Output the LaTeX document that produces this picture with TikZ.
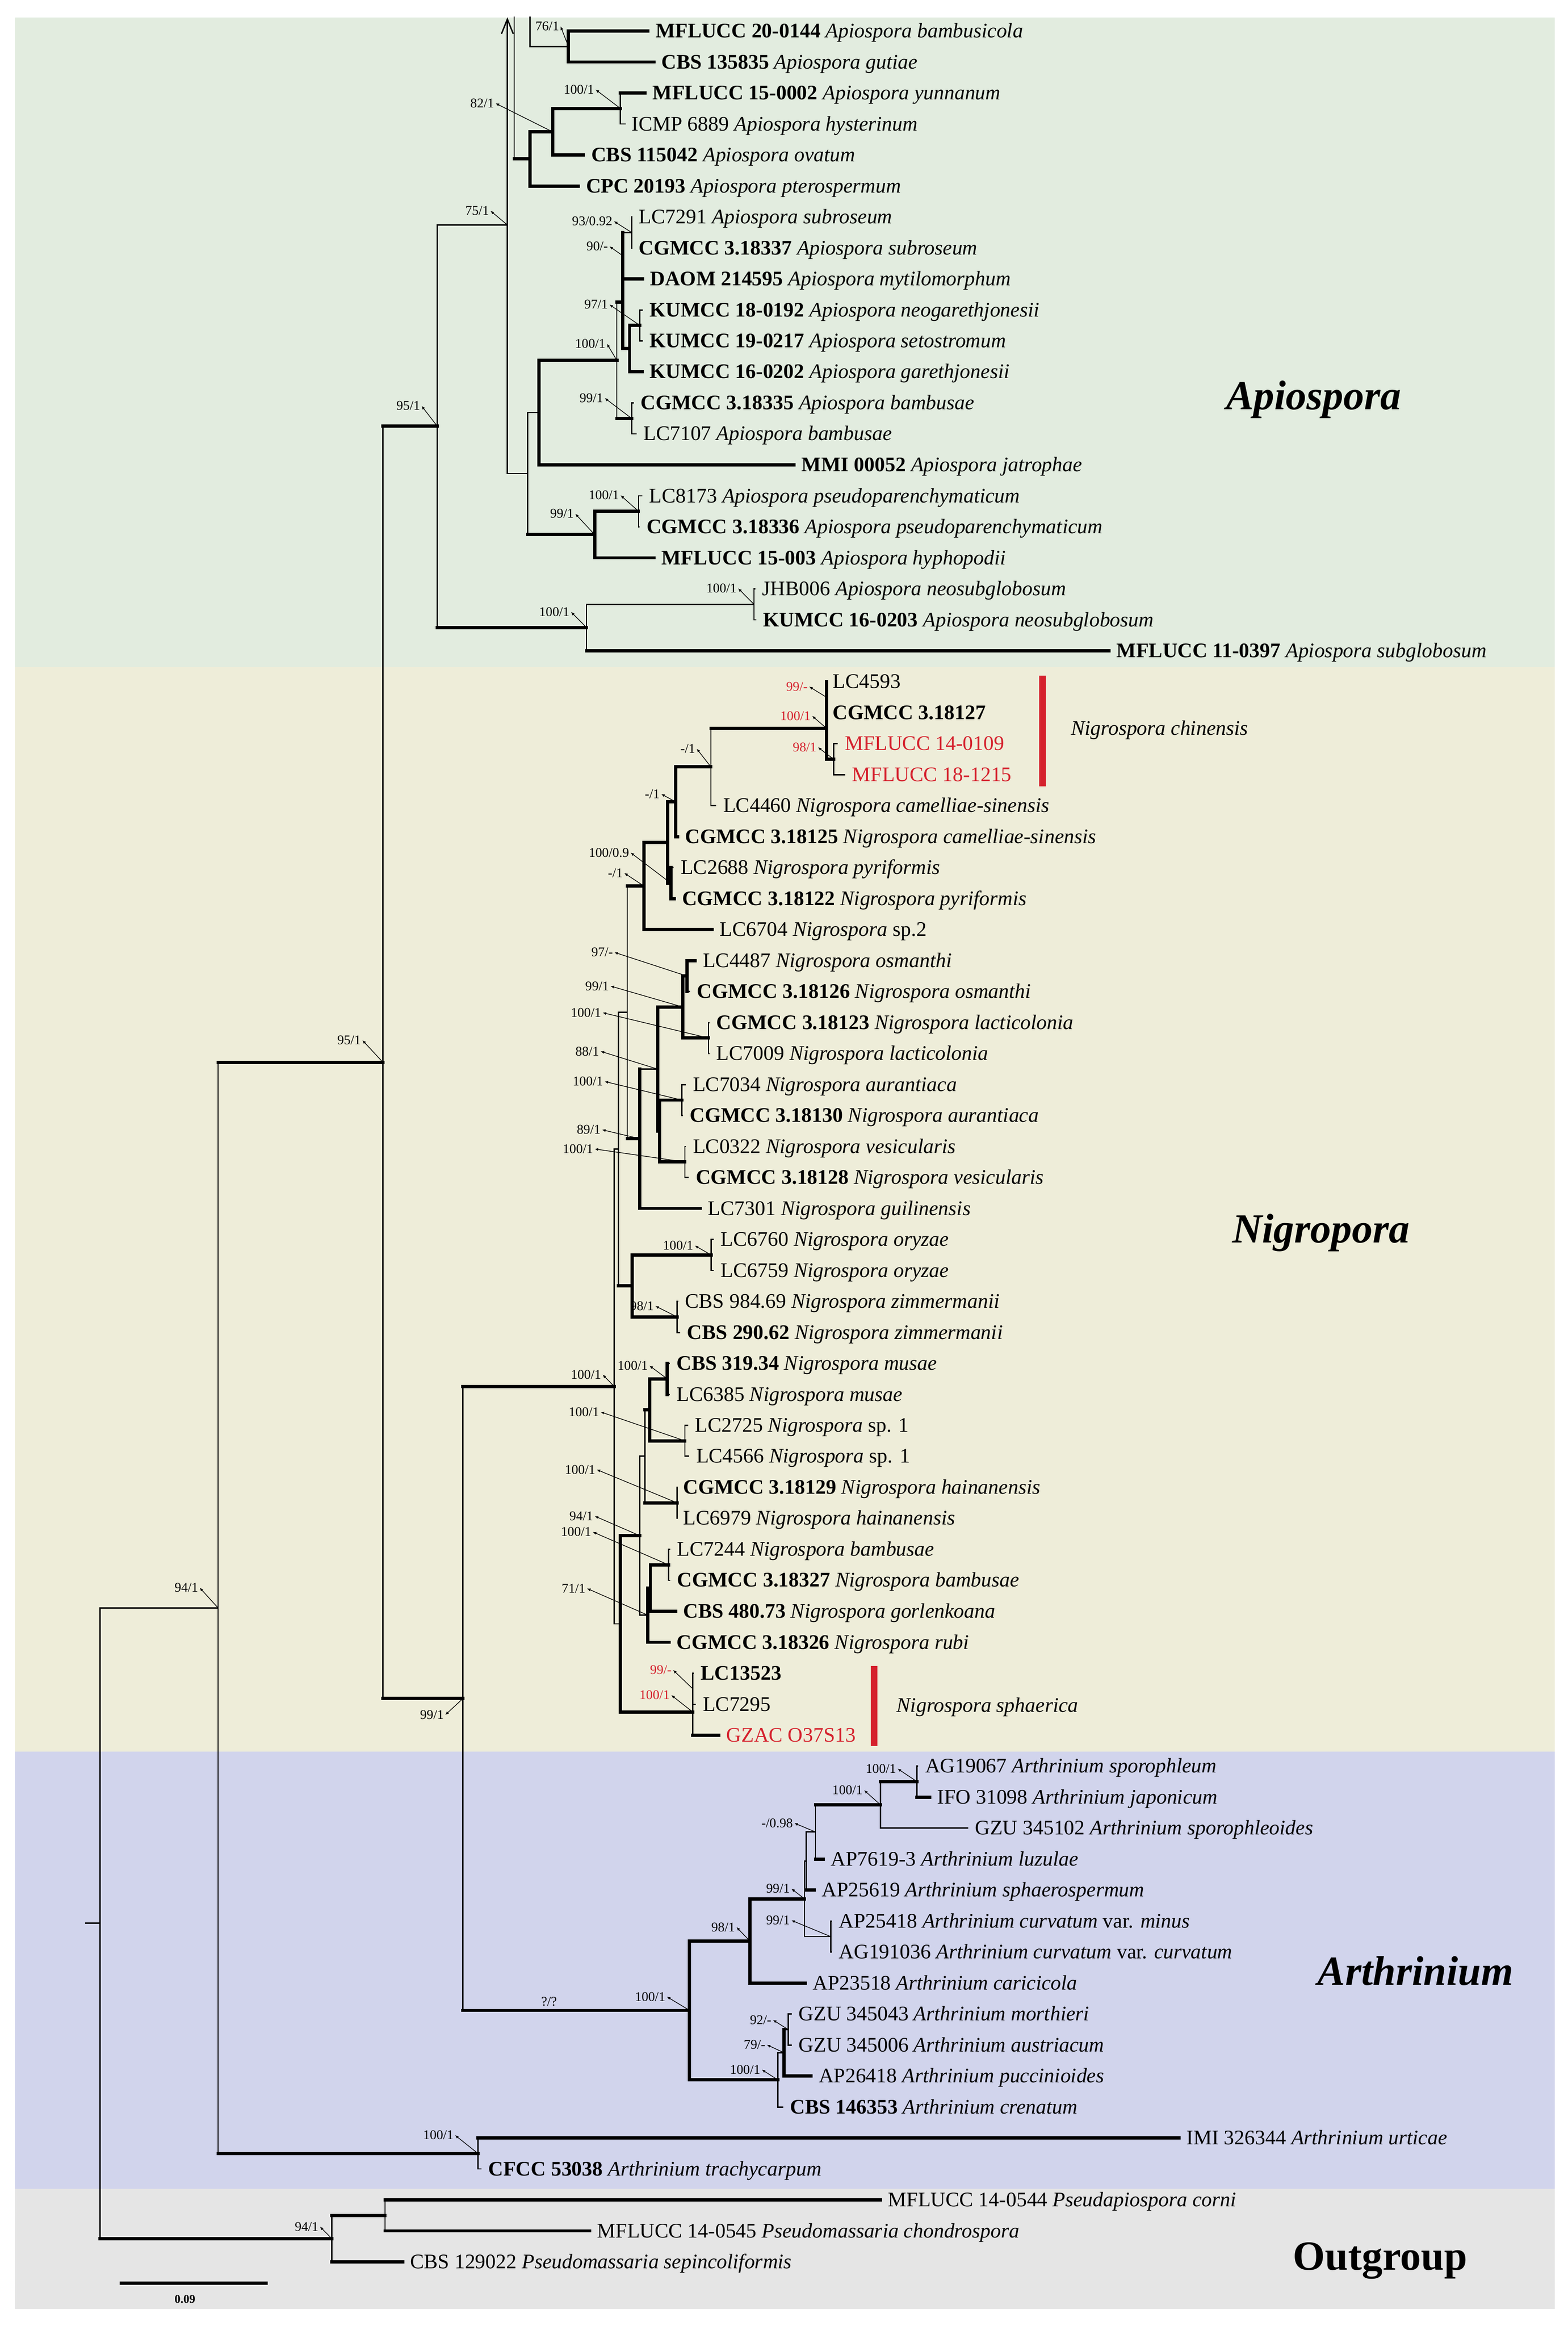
\documentclass[tikz,border=0pt]{standalone}
\usepackage{fontspec}
\setmainfont{Liberation Serif}
\usetikzlibrary{arrows.meta}
\definecolor{redc}{RGB}{213,33,45}
\definecolor{bgapio}{RGB}{226,236,223}
\definecolor{bgnig}{RGB}{238,237,217}
\definecolor{bgarth}{RGB}{209,212,236}
\definecolor{bgout}{RGB}{229,229,229}
\tikzset{
  tiplab/.style={anchor=west, inner ysep=0pt, font=\fontsize{14}{16}\selectfont, text height=10pt, text depth=1pt},
  suplab/.style={anchor=east, inner sep=0.8pt, font=\fontsize{9}{10}\selectfont},
  cladetitle/.style={font=\fontsize{28}{30}\selectfont\bfseries\itshape, inner sep=0pt},
  thn/.style={line width=0.9pt, line cap=rect},
  thk/.style={line width=2.2pt, line cap=rect},
  ptr/.style={line width=0.45pt, {Latex[length=2.4pt,width=2pt]}-},
}
\newcommand{\tipx}[7]{\node[tiplab,inner xsep=#5pt] (#1) at (#3,#4) {#6};\draw[#7] (#2 |- #1.west) -- (#1.west);}
\newcommand{\supx}[6][black]{\node[suplab,text=#1] (#2) at (#3,#4) {#5};\draw[ptr] (#2.east) -- (#6);}
\newcommand{\vbar}[4]{\draw[#1] (#2 |- #3) -- (#2 |- #4);}
\newcommand{\hbr}[3]{\draw[#1] (#2 |- #3) -- (#3);}
\begin{document}
\begin{tikzpicture}[x=1pt,y=-1pt]
\useasboundingbox (0,0) rectangle (1060,1572);
% backgrounds
\fill[bgapio] (10.3,11.7) rectangle (1051,451);
\fill[bgnig] (10.3,451) rectangle (1051,1183.8);
\fill[bgarth] (10.3,1183.8) rectangle (1051,1479.3);
\fill[bgout] (10.3,1479.3) rectangle (1051,1560.5);

% ---------------- internal node coordinates ----------------
\coordinate (Ntopa) at (347.6,11.7);
\coordinate (Ntopb) at (358.3,11.7);
\coordinate (Narrow) at (343,11.7);
\coordinate (N76) at (384.3,31.45);
\coordinate (N100y) at (419.5,73.35);
\coordinate (N82) at (373.6,89.1);
\coordinate (N358) at (358.3,107.4);
\coordinate (N75) at (343,152);
\coordinate (Nsub) at (427,157.1);
\coordinate (N90) at (421,172.8);
\coordinate (N97) at (432.6,219.95);
\coordinate (Nk) at (425.6,235.6);
\coordinate (Nx) at (421,204.2);
\coordinate (N99b) at (427,282.75);
\coordinate (N100) at (417,243.5);
\coordinate (Nmmi) at (364.4,278.85);
\coordinate (N100p) at (431.7,345.55);
\coordinate (N99p) at (402,361.3);
\coordinate (Ny) at (356.7,320.1);
\coordinate (N100n) at (509.7,408.4);
\coordinate (N396) at (396.5,424.1);
\coordinate (N95) at (295.6,288);
\coordinate (N99c) at (558.7,471.2);
\coordinate (N98c) at (563.6,513.1);
\coordinate (Nch) at (558.7,492.15);
\coordinate (Na1) at (480.6,518.3);
\coordinate (Nb1) at (456.8,541.9);
\coordinate (Npyr) at (453.5,596.85);
\coordinate (Nq) at (451.4,569.4);
\coordinate (Ntop) at (435.4,598.85);
\coordinate (Nosm) at (464.4,659.65);
\coordinate (Nlac) at (479,701.55);
\coordinate (N99n) at (461.7,680.6);
\coordinate (Naur) at (460.9,743.45);
\coordinate (Nves) at (463,785.3);
\coordinate (Nav) at (445.8,764.4);
\coordinate (N88) at (444.5,722.5);
\coordinate (N89) at (432.6,769.6);
\coordinate (NA) at (424,684.2);
\coordinate (Nory) at (480.8,848.15);
\coordinate (Nzim) at (457.7,890);
\coordinate (Noz) at (427.3,869.1);
\coordinate (NB) at (418,776.65);
\coordinate (Nmus) at (451.1,931.9);
\coordinate (Nsp1) at (463,973.75);
\coordinate (Nms) at (439.2,952.8);
\coordinate (Nhai) at (457.7,1015.65);
\coordinate (Nmsh) at (436,984.2);
\coordinate (Nbam) at (451.9,1057.55);
\coordinate (Nbg) at (439.7,1073.2);
\coordinate (N71) at (437.9,1091.55);
\coordinate (N94) at (432.6,1037.9);
\coordinate (Nsphin) at (468.3,1141.3);
\coordinate (Nsph) at (468.3,1157);
\coordinate (NC) at (419.3,1097.45);
\coordinate (Ncrown) at (415.3,937.05);
\coordinate (N313) at (313,1147.9);
\coordinate (N258) at (258.9,717.95);
\coordinate (N148) at (147.4,1086.65);
\coordinate (Nroot) at (67.6,1299.8);
\coordinate (Nstub) at (58,1299.8);
\coordinate (Nspo) at (620,1204.1);
\coordinate (N100b) at (595.3,1219.8);
\coordinate (N098) at (551.3,1238.1);
\coordinate (Nmid) at (545.1,1257.75);
\coordinate (Ncur) at (561.6,1308.8);
\coordinate (N99a) at (543.9,1283.3);
\coordinate (N98a) at (506.9,1311.75);
\coordinate (N92) at (532.8,1371.6);
\coordinate (N79) at (530,1387.3);
\coordinate (Nlow) at (525.8,1405.6);
\coordinate (Narth) at (466.2,1358.7);
\coordinate (N322) at (323.1,1455.35);
\coordinate (N260) at (260.3,1497.25);
\coordinate (Nout) at (224.4,1513);

% ---------------- tips ----------------
\tipx{t1}{N76}{438}{21}{5}{\textbf{MFLUCC 20-0144} \textit{Apiospora bambusicola}}{thk}
\tipx{t2}{N76}{442}{41.9}{5}{\textbf{CBS 135835} \textit{Apiospora gutiae}}{thk}
\tipx{t3}{N100y}{436}{62.9}{5}{\textbf{MFLUCC 15-0002} \textit{Apiospora yunnanum}}{thk}
\tipx{t4}{N100y}{422.5}{83.8}{4.5}{ICMP 6889 \textit{Apiospora hysterinum}}{thn}
\tipx{t5}{N82}{394.6}{104.8}{5}{\textbf{CBS 115042} \textit{Apiospora ovatum}}{thk}
\tipx{t6}{N358}{391}{125.7}{5}{\textbf{CPC 20193} \textit{Apiospora pterospermum}}{thk}
\tipx{t7}{Nsub}{427}{146.6}{4.7}{LC7291 \textit{Apiospora subroseum}}{thn}
\tipx{t8}{Nsub}{427}{167.6}{4.7}{\textbf{CGMCC 3.18337} \textit{Apiospora subroseum}}{thn}
\tipx{t9}{N90}{434.4}{188.5}{5}{\textbf{DAOM 214595} \textit{Apiospora mytilomorphum}}{thk}
\tipx{t10}{N97}{434}{209.5}{5}{\textbf{KUMCC 18-0192} \textit{Apiospora neogarethjonesii}}{thn}
\tipx{t11}{N97}{434}{230.4}{5}{\textbf{KUMCC 19-0217} \textit{Apiospora setostromum}}{thn}
\tipx{t12}{Nk}{434}{251.3}{5}{\textbf{KUMCC 16-0202} \textit{Apiospora garethjonesii}}{thk}
\tipx{t13}{N99b}{428}{272.3}{5}{\textbf{CGMCC 3.18335} \textit{Apiospora bambusae}}{thn}
\tipx{t14}{N99b}{429.8}{293.2}{5}{LC7107 \textit{Apiospora bambusae}}{thn}
\tipx{t15}{Nmmi}{536.8}{314.2}{5}{\textbf{MMI 00052} \textit{Apiospora jatrophae}}{thk}
\tipx{t16}{N100p}{433.7}{335.1}{5}{LC8173 \textit{Apiospora pseudoparenchymaticum}}{thn}
\tipx{t17}{N100p}{432}{356}{5}{\textbf{CGMCC 3.18336} \textit{Apiospora pseudoparenchymaticum}}{thn}
\tipx{t18}{N99p}{442}{377}{5}{\textbf{MFLUCC 15-003} \textit{Apiospora hyphopodii}}{thk}
\tipx{t19}{N100n}{510.2}{397.9}{5}{JHB006 \textit{Apiospora neosubglobosum}}{thn}
\tipx{t20}{N100n}{510.8}{418.9}{5}{\textbf{KUMCC 16-0203} \textit{Apiospora neosubglobosum}}{thn}
\tipx{t21}{N396}{749.7}{439.8}{5}{\textbf{MFLUCC 11-0397} \textit{Apiospora subglobosum}}{thk}
\tipx{t22}{N99c}{558.7}{460.7}{4.1}{LC4593}{thn}
\tipx{t23}{N99c}{558.7}{481.7}{4.1}{\textbf{CGMCC 3.18127}}{thn}
\tipx{t24}{N98c}{566}{502.6}{5}{\textcolor{redc}{MFLUCC 14-0109}}{thn}
\tipx{t25}{N98c}{571}{523.6}{5}{\textcolor{redc}{MFLUCC 18-1215}}{thn}
\tipx{t26}{Na1}{483.8}{544.5}{5}{LC4460 \textit{Nigrospora camelliae-sinensis}}{thn}
\tipx{t27}{Nb1}{458}{565.4}{5}{\textbf{CGMCC 3.18125} \textit{Nigrospora camelliae-sinensis}}{thk}
\tipx{t28}{Npyr}{455}{586.4}{5}{LC2688 \textit{Nigrospora pyriformis}}{thn}
\tipx{t29}{Npyr}{456}{607.3}{5}{\textbf{CGMCC 3.18122} \textit{Nigrospora pyriformis}}{thk}
\tipx{t30}{Ntop}{481.4}{628.3}{5}{LC6704 \textit{Nigrospora} sp.2}{thk}
\tipx{t31}{Nosm}{470}{649.2}{5}{LC4487 \textit{Nigrospora osmanthi}}{thk}
\tipx{t32}{Nosm}{466}{670.1}{5}{\textbf{CGMCC 3.18126} \textit{Nigrospora osmanthi}}{thn}
\tipx{t33}{Nlac}{479.2}{691.1}{5}{\textbf{CGMCC 3.18123} \textit{Nigrospora lacticolonia}}{thn}
\tipx{t34}{Nlac}{479.2}{712}{5}{LC7009 \textit{Nigrospora lacticolonia}}{thn}
\tipx{t35}{Naur}{463.3}{733}{5}{LC7034 \textit{Nigrospora aurantiaca}}{thn}
\tipx{t36}{Naur}{461.2}{753.9}{5}{\textbf{CGMCC 3.18130} \textit{Nigrospora aurantiaca}}{thn}
\tipx{t37}{Nves}{463.3}{774.8}{5}{LC0322 \textit{Nigrospora vesicularis}}{thn}
\tipx{t38}{Nves}{465.2}{795.8}{5}{\textbf{CGMCC 3.18128} \textit{Nigrospora vesicularis}}{thn}
\tipx{t39}{N89}{473.4}{816.7}{5}{LC7301 \textit{Nigrospora guilinensis}}{thk}
\tipx{t40}{Nory}{482}{837.7}{5}{LC6760 \textit{Nigrospora oryzae}}{thn}
\tipx{t41}{Nory}{482}{858.6}{5}{LC6759 \textit{Nigrospora oryzae}}{thn}
\tipx{t42}{Nzim}{458}{879.5}{5}{CBS 984.69 \textit{Nigrospora zimmermanii}}{thn}
\tipx{t43}{Nzim}{459.4}{900.5}{5}{\textbf{CBS 290.62} \textit{Nigrospora zimmermanii}}{thn}
\tipx{t44}{Nmus}{452.2}{921.4}{5}{\textbf{CBS 319.34} \textit{Nigrospora musae}}{thn}
\tipx{t45}{Nmus}{452.2}{942.4}{5}{LC6385 \textit{Nigrospora musae}}{thn}
\tipx{t46}{Nsp1}{464.7}{963.3}{5}{LC2725 \textit{Nigrospora} sp. 1}{thn}
\tipx{t47}{Nsp1}{465.5}{984.2}{5}{LC4566 \textit{Nigrospora} sp. 1}{thn}
\tipx{t48}{Nhai}{457.7}{1005.2}{4}{\textbf{CGMCC 3.18129} \textit{Nigrospora hainanensis}}{thn}
\tipx{t49}{Nhai}{457.7}{1026.1}{4}{LC6979 \textit{Nigrospora hainanensis}}{thn}
\tipx{t50}{Nbam}{452.7}{1047.1}{5}{LC7244 \textit{Nigrospora bambusae}}{thn}
\tipx{t51}{Nbam}{452.7}{1068}{5}{\textbf{CGMCC 3.18327} \textit{Nigrospora bambusae}}{thn}
\tipx{t52}{Nbg}{456.7}{1088.9}{5}{\textbf{CBS 480.73} \textit{Nigrospora gorlenkoana}}{thk}
\tipx{t53}{N71}{452.2}{1109.9}{5}{\textbf{CGMCC 3.18326} \textit{Nigrospora rubi}}{thk}
\tipx{t54}{Nsphin}{468.6}{1130.8}{5}{\textbf{LC13523}}{thn}
\tipx{t55}{Nsphin}{470}{1151.8}{5}{LC7295}{thn}
\tipx{t56}{Nsph}{485.9}{1172.7}{5}{\textcolor{redc}{GZAC O37S13}}{thk}
\tipx{t57}{Nspo}{620.3}{1193.6}{5}{AG19067 \textit{Arthrinium sporophleum}}{thn}
\tipx{t58}{Nspo}{628.5}{1214.6}{5}{IFO 31098 \textit{Arthrinium japonicum}}{thk}
\tipx{t59}{N100b}{654}{1235.5}{5}{GZU 345102 \textit{Arthrinium sporophleoides}}{thn}
\tipx{t60}{N098}{556.6}{1256.4}{5}{AP7619-3 \textit{Arthrinium luzulae}}{thk}
\tipx{t61}{Nmid}{550.4}{1277.4}{5}{AP25619 \textit{Arthrinium sphaerospermum}}{thk}
\tipx{t62}{Ncur}{562}{1298.3}{5}{AP25418 \textit{Arthrinium curvatum} var. \textit{minus}}{thn}
\tipx{t63}{Ncur}{562}{1319.3}{5}{AG191036 \textit{Arthrinium curvatum} var. \textit{curvatum}}{thn}
\tipx{t64}{N98a}{544.3}{1340.2}{5}{AP23518 \textit{Arthrinium caricicola}}{thk}
\tipx{t65}{N92}{534.8}{1361.1}{5}{GZU 345043 \textit{Arthrinium morthieri}}{thn}
\tipx{t66}{N92}{534.8}{1382.1}{5}{GZU 345006 \textit{Arthrinium austriacum}}{thn}
\tipx{t67}{N79}{548.4}{1403}{5}{AP26418 \textit{Arthrinium puccinioides}}{thk}
\tipx{t68}{Nlow}{529}{1424}{5}{\textbf{CBS 146353} \textit{Arthrinium crenatum}}{thn}
\tipx{t69}{N322}{797}{1444.9}{5}{IMI 326344 \textit{Arthrinium urticae}}{thk}
\tipx{t70}{N322}{325}{1465.8}{5}{\textbf{CFCC 53038} \textit{Arthrinium trachycarpum}}{thn}
\tipx{t71}{N260}{595.3}{1486.8}{5}{MFLUCC 14-0544 \textit{Pseudapiospora corni}}{thk}
\tipx{t72}{N260}{398.6}{1507.7}{5}{MFLUCC 14-0545 \textit{Pseudomassaria chondrospora}}{thk}
\tipx{t73}{Nout}{272.2}{1528.7}{5}{CBS 129022 \textit{Pseudomassaria sepincoliformis}}{thk}

% ---------------- vertical bars ----------------
\vbar{thk}{N76}{t1.west}{t2.west}
\vbar{thn}{N100y}{t3.west}{t4.west}
\vbar{thk}{N82}{N100y}{t5.west}
\vbar{thk}{N358}{N82}{t6.west}
\vbar{thn}{Nsub}{t7.west}{t8.west}
\vbar{thk}{N90}{Nsub}{t9.west}
\vbar{thn}{N97}{t10.west}{t11.west}
\vbar{thk}{Nk}{N97}{t12.west}
\vbar{thk}{Nx}{N90}{Nk}
\vbar{thn}{N99b}{t13.west}{t14.west}
\vbar{thn}{N100}{Nx}{N99b}
\vbar{thk}{Nmmi}{N100}{t15.west}
\vbar{thn}{N100p}{t16.west}{t17.west}
\vbar{thk}{N99p}{N100p}{t18.west}
\vbar{thn}{Ny}{Nmmi}{N99p}
\vbar{thn}{N100n}{t19.west}{t20.west}
\vbar{thn}{N396}{N100n}{t21.west}
\vbar{thn}{N95}{N75}{N396}
\vbar{thk}{N99c}{t22.west}{t23.west}
\vbar{thk}{Nch}{N99c}{N98c}
\vbar{thn}{N98c}{t24.west}{t25.west}
\vbar{thn}{Na1}{Nch}{t26.west}
\vbar{thk}{Nb1}{Na1}{t27.west}
\vbar{thk}{Npyr}{t28.west}{t29.west}
\vbar{thk}{Nq}{Nb1}{Npyr}
\vbar{thk}{Ntop}{Nq}{t30.west}
\vbar{thk}{Nosm}{t31.west}{t32.west}
\vbar{thn}{Nlac}{t33.west}{t34.west}
\vbar{thk}{N99n}{Nosm}{Nlac}
\vbar{thn}{Naur}{t35.west}{t36.west}
\vbar{thn}{Nves}{t37.west}{t38.west}
\vbar{thk}{Nav}{Naur}{Nves}
\vbar{thk}{N88}{N99n}{Nav}
\vbar{thk}{N89}{N88}{t39.west}
\vbar{thn}{NA}{Ntop}{N89}
\vbar{thn}{Nory}{t40.west}{t41.west}
\vbar{thn}{Nzim}{t42.west}{t43.west}
\vbar{thk}{Noz}{Nory}{Nzim}
\vbar{thn}{NB}{NA}{Noz}
\vbar{thk}{Nmus}{t44.west}{t45.west}
\vbar{thn}{Nsp1}{t46.west}{t47.west}
\vbar{thk}{Nms}{Nmus}{Nsp1}
\vbar{thn}{Nhai}{t48.west}{t49.west}
\vbar{thn}{Nmsh}{Nms}{Nhai}
\vbar{thn}{Nbam}{t50.west}{t51.west}
\vbar{thk}{Nbg}{Nbam}{t52.west}
\vbar{thk}{N71}{Nbg}{t53.west}
\vbar{thn}{N94}{Nmsh}{N71}
\vbar{thn}{Nsphin}{t54.west}{t55.west}
\vbar{thn}{Nsph}{Nsphin}{t56.west}
\vbar{thk}{NC}{N94}{Nsph}
\vbar{thn}{Ncrown}{NB}{NC}
\vbar{thn}{N313}{Ncrown}{Narth}
\vbar{thn}{N258}{N95}{N313}
\vbar{thn}{N148}{N258}{N322}
\vbar{thn}{Nroot}{N148}{Nout}
\vbar{thn}{Nspo}{t57.west}{t58.west}
\vbar{thn}{N100b}{Nspo}{t59.west}
\vbar{thn}{N098}{N100b}{t60.west}
\vbar{thn}{Nmid}{N098}{t61.west}
\vbar{thn}{Ncur}{t62.west}{t63.west}
\vbar{thn}{N99a}{Nmid}{Ncur}
\vbar{thk}{N98a}{N99a}{t64.west}
\vbar{thn}{N92}{t65.west}{t66.west}
\vbar{thk}{N79}{N92}{t67.west}
\vbar{thn}{Nlow}{N79}{t68.west}
\vbar{thk}{Narth}{N98a}{Nlow}
\vbar{thn}{N322}{t69.west}{t70.west}
\vbar{thn}{N260}{t71.west}{t72.west}
\vbar{thn}{Nout}{N260}{t73.west}

% ---------------- horizontal branches between internal nodes ----------------
\draw[thn] (Ntopb) |- (N76);
\draw[thn] (Ntopa) -- (Ntopa |- N358);
\hbr{thk}{Ntopa}{N358}
\draw[thn,-{Straight Barb[length=10pt,width=8pt]}] (N75) -- (Narrow);
\draw[thn] (N75) -- (N75 |- Ny);
\hbr{thn}{N75}{Ny}
\hbr{thk}{N82}{N100y}
\hbr{thk}{N358}{N82}
\hbr{thk}{N100}{Nx}
\hbr{thk}{N100}{N99b}
\hbr{thk}{Nx}{Nk}
\hbr{thn}{N90}{Nsub}
\hbr{thk}{Nk}{N97}
\hbr{thk}{Nmmi}{N100}
\hbr{thn}{Ny}{Nmmi}
\hbr{thk}{Ny}{N99p}
\hbr{thk}{N99p}{N100p}
\hbr{thn}{N396}{N100n}
\hbr{thn}{N95}{N75}
\hbr{thk}{N95}{N396}
\hbr{thk}{N258}{N95}
\hbr{thk}{Nch}{N98c}
\hbr{thk}{Na1}{Nch}
\hbr{thk}{Nb1}{Na1}
\hbr{thk}{Nq}{Nb1}
\hbr{thk}{Nq}{Npyr}
\hbr{thk}{Ntop}{Nq}
\hbr{thk}{NA}{Ntop}
\hbr{thk}{N99n}{Nosm}
\hbr{thk}{N99n}{Nlac}
\hbr{thk}{N88}{N99n}
\hbr{thk}{Nav}{Naur}
\hbr{thk}{Nav}{Nves}
\hbr{thk}{N88}{Nav}
\hbr{thn}{N89}{N88}
\hbr{thk}{NA}{N89}
\hbr{thn}{NB}{NA}
\hbr{thk}{Noz}{Nory}
\hbr{thk}{Noz}{Nzim}
\hbr{thk}{NB}{Noz}
\hbr{thn}{Ncrown}{NB}
\hbr{thk}{Nms}{Nmus}
\hbr{thk}{Nms}{Nsp1}
\hbr{thk}{Nmsh}{Nms}
\hbr{thk}{Nmsh}{Nhai}
\hbr{thn}{N94}{Nmsh}
\hbr{thk}{Nbg}{Nbam}
\hbr{thk}{N71}{Nbg}
\hbr{thn}{N94}{N71}
\hbr{thk}{NC}{N94}
\hbr{thk}{NC}{Nsph}
\hbr{thn}{Ncrown}{NC}
\hbr{thk}{N313}{Ncrown}
\hbr{thk}{N313}{Narth}
\hbr{thk}{N258}{N313}
\hbr{thk}{N148}{N258}
\hbr{thk}{N148}{N322}
\hbr{thn}{Nroot}{N148}
\hbr{thk}{Nroot}{Nout}
\draw[thn] (Nstub) -- (Nroot);
\hbr{thk}{N100b}{Nspo}
\hbr{thk}{N098}{N100b}
\hbr{thn}{Nmid}{N098}
\hbr{thn}{N99a}{Nmid}
\hbr{thn}{N99a}{Ncur}
\hbr{thk}{N98a}{N99a}
\hbr{thk}{Narth}{N98a}
\hbr{thn}{N79}{N92}
\hbr{thn}{Nlow}{N79}
\hbr{thk}{Narth}{Nlow}
\hbr{thk}{Nout}{N260}

% ---------------- support values ----------------
\supx{s1}{379}{17.8}{76/1}{N76}
\supx{s2}{402.6}{60.5}{100/1}{N100y}
\supx{s3}{335}{69.8}{82/1}{N82}
\supx{s4}{331.6}{142.5}{75/1}{N75}
\supx{s5}{415}{149.5}{93/0.92}{Nsub}
\supx{s6}{412}{166.5}{90/-}{N90}
\supx{s7}{412}{205.8}{97/1}{N97}
\supx{s8}{410.3}{232.3}{100/1}{N100}
\supx{s9}{408.8}{269}{99/1}{N99b}
\supx{s10}{419.5}{334.7}{100/1}{N100p}
\supx{s11}{388.9}{347.2}{99/1}{N99p}
\supx{s12}{499}{397.6}{100/1}{N100n}
\supx{s13}{386}{413.5}{100/1}{N396}
\supx{s14}{285}{274.3}{95/1}{N95}
\supx[redc]{s15}{547}{464}{99/-}{N99c}
\supx[redc]{s16}{549}{483.8}{100/1}{Nch}
\supx[redc]{s17}{553}{505}{98/1}{N98c}
\supx{s18}{471}{506}{-/1}{Na1}
\supx{s19}{447}{536.6}{-/1}{Nb1}
\supx{s20}{426.3}{576.2}{100/0.9}{Npyr}
\supx{s21}{422}{590}{-/1}{Ntop}
\supx{s22}{415.3}{643.6}{97/-}{Nosm}
\supx{s23}{412.7}{666.4}{99/1}{N99n}
\supx{s24}{407.4}{684.4}{100/1}{Nlac}
\supx{s25}{406}{710.5}{88/1}{N88}
\supx{s26}{408.7}{730.9}{100/1}{Naur}
\supx{s27}{407}{763.5}{89/1}{N89}
\supx{s28}{402}{776.5}{100/1}{Nves}
\supx{s29}{469.7}{841.8}{100/1}{Nory}
\supx{s30}{443}{882.6}{98/1}{Nzim}
\supx{s31}{407.4}{929}{100/1}{Ncrown}
\supx{s32}{439}{922.9}{100/1}{Nmus}
\supx{s33}{406}{954.2}{100/1}{Nsp1}
\supx{s34}{403.4}{993.2}{100/1}{Nhai}
\supx{s35}{402}{1024.6}{94/1}{N94}
\supx{s36}{400.7}{1035.3}{100/1}{Nbam}
\supx{s37}{396.8}{1073.5}{71/1}{N71}
\supx[redc]{s38}{455}{1128.6}{99/-}{Nsphin}
\supx[redc]{s39}{453.8}{1145.6}{100/1}{Nsph}
\supx{s40}{245}{703}{95/1}{N258}
\supx{s41}{135}{1073}{94/1}{N148}
\supx{s42}{301}{1159}{99/1}{N313}
\supx{s43}{606.8}{1195.3}{100/1}{Nspo}
\supx{s44}{584.2}{1209.9}{100/1}{N100b}
\supx{s45}{537}{1232.1}{-/0.98}{N098}
\supx{s46}{535}{1276.4}{99/1}{N99a}
\supx{s47}{535}{1297.8}{99/1}{Ncur}
\supx{s48}{497.9}{1302.4}{98/1}{N98a}
\supx{s49}{450.8}{1349.4}{100/1}{Narth}
\node[suplab,anchor=center] (s50) at (371.2,1352.6) {?/?};
\supx{s51}{522.5}{1365.1}{92/-}{N92}
\supx{s52}{518.4}{1381.9}{79/-}{N79}
\supx{s53}{515}{1398.7}{100/1}{Nlow}
\supx{s54}{307.6}{1443}{100/1}{N322}
\supx{s55}{216.3}{1504.8}{94/1}{Nout}

% ---------------- species bars and clade titles ----------------
\coordinate (barA1) at (704.7,456.7);
\coordinate (barA2) at (704.7,531.6);
\draw[redc,line width=4.5pt] (barA1) -- (barA2);
\coordinate (barB1) at (591,1126);
\coordinate (barB2) at (591,1180);
\draw[redc,line width=4.5pt] (barB1) -- (barB2);
\node[tiplab,inner xsep=0pt] (lchin) at (723.9,492.4) {\textit{Nigrospora chinensis}};
\node[tiplab,inner xsep=0pt] (lsph) at (606,1152.5) {\textit{Nigrospora sphaerica}};
\node[cladetitle] (cApio) at (888,270) {Apiospora};
\node[cladetitle] (cNig) at (893,833) {Nigropora};
\node[cladetitle] (cArth) at (957,1332) {Arthrinium};
\node[font=\fontsize{28}{30}\selectfont\bfseries, inner sep=0pt] (cOut) at (933,1528) {Outgroup};
% scale bar
\coordinate (sb1) at (81,1543);
\coordinate (sb2) at (181,1543);
\draw[thk,line cap=butt] (sb1) -- (sb2);
\node[font=\fontsize{8}{9}\selectfont\bfseries, inner sep=0pt] (sblab) at (125,1554) {0.09};
\end{tikzpicture}
\end{document}
